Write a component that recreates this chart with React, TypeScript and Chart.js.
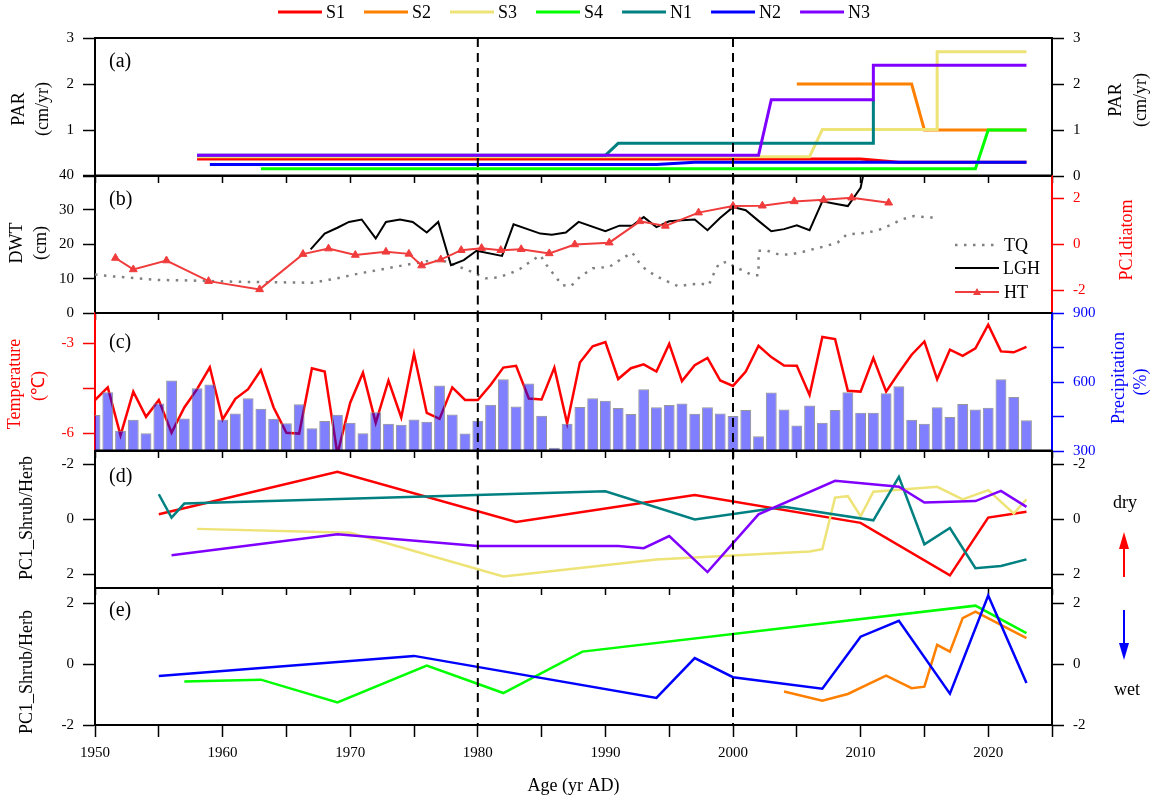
import React, { useEffect, useRef } from 'react';
import { Chart, registerables } from 'chart.js';

Chart.register(...registerables);

const SERIF = '"Liberation Serif", "Times New Roman", serif';
const W = 1159;
const PLOT_LEFT = 95;
const PLOT_RIGHT = 1052;
const EDGES = [38, 175.5, 313, 450.5, 588, 725];
const DASH_YEARS = [1980, 2000];

// ---------- colours ----------
const C_S1 = '#FF0000';
const C_S2 = '#FF8000';
const C_S3 = '#EEE377';
const C_S4 = '#00FF00';
const C_N1 = '#008080';
const C_N2 = '#0000FF';
const C_N3 = '#8000FF';
const C_HT = '#F03C3C';
const C_TQ = '#808080';

// ---------- (a) PAR ----------
const PAR_S1_X = [1958, 2010, 2013, 2023];
const PAR_S1_Y = [0.37, 0.37, 0.3, 0.3];
const PAR_S2_X = [2005, 2014, 2015, 2023];
const PAR_S2_Y = [2.0, 2.0, 1.0, 1.0];
const PAR_S3_X = [1958, 2006, 2007, 2016, 2016, 2023];
const PAR_S3_Y = [0.42, 0.42, 1.01, 1.01, 2.7, 2.7];
const PAR_S4_X = [1963, 2019, 2020, 2023];
const PAR_S4_Y = [0.16, 0.16, 1.0, 1.0];
const PAR_N1_X = [1958, 1990, 1991, 2011, 2011];
const PAR_N1_Y = [0.45, 0.45, 0.71, 0.71, 1.66];
const PAR_N2_X = [1959, 1994, 1997, 2023];
const PAR_N2_Y = [0.25, 0.25, 0.3, 0.3];
const PAR_N3_X = [1958, 2002, 2003, 2011, 2011, 2023];
const PAR_N3_Y = [0.45, 0.45, 1.66, 1.66, 2.41, 2.41];

// ---------- (b) DWT / PC1diatom ----------
const TQ_X = [1950, 1951.2, 1953, 1955, 1957, 1959, 1961, 1963, 1965, 1967, 1969, 1970.7, 1972.5, 1974.2, 1976.2, 1977.5, 1978.5, 1979.5, 1980.6, 1981.5, 1982.4, 1983.3, 1984.1, 1984.9, 1985.4, 1986, 1986.6, 1987.3, 1988, 1989, 1990.3, 1991.3, 1992.1, 1992.6, 1993.2, 1994.1, 1994.9, 1995.7, 1996.7, 1997.4, 1998.1, 1998.5, 1998.9, 1999.6, 2000.1, 2000.7, 2001.5, 2002, 2002, 2002.7, 2003.6, 2004.5, 2005.5, 2006.4, 2007.2, 2008.2, 2008.9, 2009.7, 2010.6, 2011.5, 2012.4, 2013.2, 2014.2, 2015, 2016];
const TQ_Y = [11.2, 10.7, 10.2, 9.6, 9.5, 9.3, 9.1, 9.0, 8.9, 8.8, 10.1, 11.5, 12.7, 13.9, 15.2, 15.0, 13.5, 12.0, 10.1, 10.3, 11.3, 12.8, 14.9, 16.8, 13.9, 11.0, 8.1, 7.8, 10.5, 13.0, 13.4, 15.8, 17.6, 14.9, 12.5, 10.5, 9.1, 7.8, 8.3, 8.6, 8.1, 11.5, 14.4, 14.9, 13.4, 12.5, 11.0, 11.0, 18.1, 18.1, 17.0, 17.0, 17.8, 18.7, 19.4, 20.5, 22.8, 23.1, 23.4, 24.3, 25.7, 27.2, 28.2, 27.9, 27.7];
const LGH_X = [1966.9, 1968, 1969, 1969.9, 1970.9, 1972, 1972.8, 1973.9, 1974.9, 1976, 1976.9, 1977.9, 1978.9, 1979.9, 1981.9, 1982.8, 1984.9, 1985.8, 1986.9, 1987.9, 1990, 1991.1, 1992.1, 1993, 1994, 1995, 1996, 1997, 1998, 1999, 2000, 2001, 2002, 2003, 2004, 2005, 2006, 2007, 2008, 2009, 2010, 2010.2];
const LGH_Y = [18.5, 23.1, 24.8, 26.5, 27.2, 21.7, 26.5, 27.2, 26.5, 23.4, 26.5, 13.9, 15.4, 18.1, 16.6, 25.8, 23.1, 22.8, 23.4, 26.5, 23.8, 25.4, 25.4, 27.9, 25.0, 26.7, 27.0, 27.2, 24.1, 27.7, 30.8, 29.9, 26.8, 23.8, 24.4, 25.5, 24.1, 32.5, 31.8, 31.1, 36.4, 40];
const HT_X = [1951.6, 1953, 1955.6, 1958.9, 1962.9, 1966.3, 1968.3, 1970.4, 1972.8, 1974.6, 1975.6, 1977.1, 1978.7, 1980.3, 1981.8, 1983.4, 1985.6, 1987.6, 1990.3, 1992.7, 1994.7, 1997.3, 2000, 2002.3, 2004.8, 2007.1, 2009.3, 2012.2];
const HT_Y = [-0.6, -1.1, -0.71, -1.61, -1.97, -0.43, -0.19, -0.47, -0.33, -0.42, -0.93, -0.67, -0.26, -0.17, -0.26, -0.22, -0.4, -0.01, 0.07, 1.0, 0.8, 1.38, 1.67, 1.68, 1.87, 1.94, 2.03, 1.81];

// ---------- (c) Temperature / Precipitation ----------
const CLIMATE_YEARS = [1950, 1951, 1952, 1953, 1954, 1955, 1956, 1957, 1958, 1959, 1960, 1961, 1962, 1963, 1964, 1965, 1966, 1967, 1968, 1969, 1970, 1971, 1972, 1973, 1974, 1975, 1976, 1977, 1978, 1979, 1980, 1981, 1982, 1983, 1984, 1985, 1986, 1987, 1988, 1989, 1990, 1991, 1992, 1993, 1994, 1995, 1996, 1997, 1998, 1999, 2000, 2001, 2002, 2003, 2004, 2005, 2006, 2007, 2008, 2009, 2010, 2011, 2012, 2013, 2014, 2015, 2016, 2017, 2018, 2019, 2020, 2021, 2022, 2023];
const TEMPERATURE = [-4.9, -4.48, -6.08, -4.62, -5.46, -4.9, -5.99, -5.15, -4.54, -3.81, -5.55, -4.86, -4.54, -3.9, -5.15, -5.99, -6.02, -3.84, -3.95, -6.7, -4.99, -3.99, -5.66, -4.25, -5.48, -3.36, -5.33, -5.53, -4.48, -4.9, -4.9, -4.4, -3.82, -3.76, -4.85, -4.88, -3.82, -5.68, -3.65, -3.11, -2.97, -4.2, -3.84, -3.71, -3.95, -3.03, -4.27, -3.74, -3.5, -4.25, -4.43, -3.95, -3.09, -3.47, -3.75, -3.76, -4.73, -2.8, -2.87, -4.59, -4.62, -3.5, -4.62, -3.99, -3.39, -2.95, -4.21, -3.22, -3.43, -3.18, -2.39, -3.28, -3.31, -3.13];
const PRECIPITATION = [456, 555, 388, 436, 377, 506, 607, 441, 573, 589, 437, 463, 529, 484, 440, 421, 503, 399, 430, 458, 423, 377, 469, 418, 414, 437, 427, 585, 459, 376, 431, 501, 612, 494, 593, 453, 314, 418, 491, 529, 519, 487, 461, 568, 490, 500, 507, 462, 490, 463, 452, 478, 364, 554, 480, 411, 498, 423, 478, 555, 466, 466, 551, 582, 436, 418, 490, 448, 504, 480, 488, 612, 535, 434];

// ---------- (d) PC1_Shrub/Herb (S1, S3, N1, N3) ----------
const D_S1_X = [1955, 1969, 1983, 1997, 2010, 2017, 2020, 2023];
const D_S1_Y = [-0.18, -1.73, 0.1, -0.88, 0.13, 2.04, -0.06, -0.27];
const D_S3_X = [1958, 1970, 1982, 1994, 2006, 2007, 2008, 2009, 2010, 2011, 2016, 2018, 2020, 2022, 2023];
const D_S3_Y = [0.35, 0.49, 2.08, 1.46, 1.17, 1.09, -0.79, -0.84, -0.11, -1.0, -1.18, -0.72, -1.06, -0.21, -0.72];
const D_N1_X = [1955, 1956, 1957, 1990, 1997, 2004, 2011, 2013, 2015, 2017, 2019, 2021, 2023];
const D_N1_Y = [-0.91, -0.06, -0.57, -1.02, 0.01, -0.45, 0.04, -1.54, 0.91, 0.32, 1.78, 1.7, 1.46];
const D_N3_X = [1956, 1969, 1980, 1991, 1993, 1995, 1998, 2002, 2008, 2013, 2015, 2019, 2021, 2023];
const D_N3_Y = [1.31, 0.55, 0.97, 0.97, 1.05, 0.61, 1.92, -0.18, -1.4, -1.18, -0.61, -0.66, -1.03, -0.45];

// ---------- (e) PC1_Shrub/Herb (S2, S4, N2) ----------
const E_S2_X = [2004, 2007, 2009, 2012, 2014, 2015, 2016, 2017, 2018, 2019, 2023];
const E_S2_Y = [-0.9, -1.2, -0.98, -0.38, -0.79, -0.74, 0.63, 0.41, 1.51, 1.72, 0.85];
const E_S4_X = [1957, 1963, 1969, 1976, 1982, 1988.2, 2019, 2023];
const E_S4_Y = [-0.57, -0.51, -1.26, -0.05, -0.95, 0.41, 1.92, 1.02];
const E_N2_X = [1955, 1975, 1994, 1997, 2000, 2007, 2010, 2013, 2017, 2020, 2023];
const E_N2_Y = [-0.39, 0.27, -1.11, 0.2, -0.43, -0.81, 0.9, 1.42, -0.97, 2.25, -0.62];

// ---------- tick values ----------
const X_TICKS = [1950, 1955, 1960, 1965, 1970, 1975, 1980, 1985, 1990, 1995, 2000, 2005, 2010, 2015, 2020, 2025];
const X_LABELS = [1950, 1960, 1970, 1980, 1990, 2000, 2010, 2020];
const PAR_TICKS = [0, 1, 2, 3];
const DWT_TICKS = [0, 10, 20, 30, 40];
const PC1D_TICKS = [-2, 0, 2];
const TEMP_TICKS = [-6, -4.5, -3];
const TEMP_LABELS = [-6, -3];
const PREC_TICKS = [300, 450, 600, 750, 900];
const PREC_LABELS = [300, 600, 900];
const PC1_TICKS = [-2, 0, 2];

// ---------- helpers ----------
const pts = (xs: number[], ys: number[]) => xs.map((x, i) => ({ x, y: ys[i] }));

function lineDs(label: string, xs: number[], ys: number[], color: string, order: number, extra: any = {}) {
  return {
    type: 'line',
    label,
    data: pts(xs, ys),
    borderColor: color,
    backgroundColor: color,
    borderWidth: 2.5,
    pointRadius: 0,
    tension: 0,
    fill: false,
    order,
    yAxisID: 'y',
    ...extra,
  };
}

function xAxis(last: boolean) {
  return {
    type: 'linear',
    position: 'bottom',
    min: 1950,
    max: 2025,
    offset: false,
    afterBuildTicks: (s: any) => {
      s.ticks = X_TICKS.map((v) => ({ value: v }));
    },
    afterFit: (s: any) => {
      s.height = last ? 76 : 7;
    },
    ticks: {
      display: last,
      autoSkip: false,
      maxRotation: 0,
      padding: 7,
      color: '#000',
      font: { family: SERIF, size: 15 },
      callback: (v: number) => (X_LABELS.includes(v) ? String(v) : ''),
    },
    grid: {
      display: true,
      drawOnChartArea: false,
      drawTicks: true,
      tickLength: last ? 12 : 7,
      tickColor: '#000',
      tickWidth: 1.5,
      offset: false,
    },
    border: { display: true, color: '#000', width: 2 },
    title: {
      display: last,
      text: 'Age (yr AD)',
      color: '#000',
      font: { family: SERIF, size: 18 },
      padding: { top: 0, bottom: 4 },
    },
  };
}

function yAxis(pos: 'left' | 'right', min: number, max: number, tickVals: number[], labelVals: number[], color: string, reverse = false) {
  return {
    type: 'linear',
    position: pos,
    display: true,
    min,
    max,
    reverse,
    afterBuildTicks: (s: any) => {
      s.ticks = tickVals.map((v) => ({ value: v }));
    },
    afterFit: (s: any) => {
      s.width = pos === 'left' ? PLOT_LEFT : W - PLOT_RIGHT;
    },
    ticks: {
      color,
      padding: 9,
      font: { family: SERIF, size: 15 },
      callback: (v: number) => (labelVals.includes(v) ? String(v) : ''),
    },
    grid: {
      drawOnChartArea: false,
      drawTicks: true,
      tickLength: 12,
      tickColor: color,
      tickWidth: 1.5,
    },
    border: { display: true, color, width: 2 },
  };
}

function vText(ctx: CanvasRenderingContext2D, text: string, x: number, y: number, color: string, size = 18) {
  ctx.save();
  ctx.translate(x, y);
  ctx.rotate(-Math.PI / 2);
  ctx.fillStyle = color;
  ctx.font = `${size}px ${SERIF}`;
  ctx.textAlign = 'center';
  ctx.textBaseline = 'middle';
  ctx.fillText(text, 0, 0);
  ctx.restore();
}

function hText(ctx: CanvasRenderingContext2D, text: string, x: number, y: number, color: string, size = 18, align: CanvasTextAlign = 'left') {
  ctx.save();
  ctx.fillStyle = color;
  ctx.font = `${size}px ${SERIF}`;
  ctx.textAlign = align;
  ctx.textBaseline = 'middle';
  ctx.fillText(text, x, y);
  ctx.restore();
}

type TitleSpec = { text: string; x: number; y: number; color: string };

function decoPlugin(titles: TitleSpec[], panelLabel: string, labelY: number, extra?: (chart: any) => void) {
  return {
    id: 'deco',
    afterDatasetsDraw(chart: any) {
      const { ctx, chartArea: a, scales } = chart;
      ctx.save();
      ctx.strokeStyle = '#000';
      ctx.lineWidth = 2;
      ctx.setLineDash([9, 6]);
      DASH_YEARS.forEach((yr) => {
        const x = scales.x.getPixelForValue(yr);
        ctx.beginPath();
        ctx.moveTo(x, a.top);
        ctx.lineTo(x, a.bottom);
        ctx.stroke();
      });
      ctx.setLineDash([]);
      ctx.beginPath();
      ctx.moveTo(a.left, a.top);
      ctx.lineTo(a.right, a.top);
      ctx.stroke();
      ctx.restore();
    },
    afterDraw(chart: any) {
      const { ctx, chartArea: a } = chart;
      titles.forEach((t) => vText(ctx, t.text, t.x, t.y, t.color));
      hText(ctx, panelLabel, a.left + 14, labelY, '#000', 20);
      if (extra) extra(chart);
    },
  };
}

function drawTopLegend(chart: any) {
  const ctx: CanvasRenderingContext2D = chart.ctx;
  ctx.save();
  ctx.font = `18px ${SERIF}`;
  const ds = [...chart.data.datasets].sort((p: any, q: any) => q.order - p.order);
  let x = 278;
  const y = 12;
  ds.forEach((d: any) => {
    ctx.strokeStyle = d.borderColor;
    ctx.lineWidth = 3;
    ctx.beginPath();
    ctx.moveTo(x, y);
    ctx.lineTo(x + 44, y);
    ctx.stroke();
    ctx.fillStyle = '#000';
    ctx.textAlign = 'left';
    ctx.textBaseline = 'middle';
    ctx.fillText(d.label, x + 48, y + 1);
    x += 48 + ctx.measureText(d.label).width + 19;
  });
  ctx.restore();
}

function drawBLegend(chart: any) {
  const ctx: CanvasRenderingContext2D = chart.ctx;
  ctx.save();
  const x0 = 955;
  const x1 = 999;
  // TQ
  ctx.strokeStyle = C_TQ;
  ctx.lineWidth = 2.5;
  ctx.setLineDash([2.5, 6.5]);
  ctx.beginPath();
  ctx.moveTo(x0, 245);
  ctx.lineTo(x1, 245);
  ctx.stroke();
  ctx.setLineDash([]);
  // LGH
  ctx.strokeStyle = '#000';
  ctx.lineWidth = 2;
  ctx.beginPath();
  ctx.moveTo(x0, 268);
  ctx.lineTo(x1, 268);
  ctx.stroke();
  // HT
  ctx.strokeStyle = C_HT;
  ctx.beginPath();
  ctx.moveTo(x0, 292);
  ctx.lineTo(x1, 292);
  ctx.stroke();
  ctx.fillStyle = C_HT;
  ctx.beginPath();
  ctx.moveTo(977, 288);
  ctx.lineTo(981, 295);
  ctx.lineTo(973, 295);
  ctx.closePath();
  ctx.fill();
  ctx.restore();
  hText(ctx, 'TQ', 1004, 246, '#000', 18);
  hText(ctx, 'LGH', 1003, 269, '#000', 18);
  hText(ctx, 'HT', 1004, 293, '#000', 18);
}

function arrow(ctx: CanvasRenderingContext2D, x: number, yFrom: number, yTo: number, color: string) {
  const dir = yTo < yFrom ? -1 : 1;
  const head = 17;
  ctx.save();
  ctx.strokeStyle = color;
  ctx.fillStyle = color;
  ctx.lineWidth = 2;
  ctx.beginPath();
  ctx.moveTo(x, yFrom);
  ctx.lineTo(x, yTo - dir * head);
  ctx.stroke();
  ctx.beginPath();
  ctx.moveTo(x, yTo);
  ctx.lineTo(x - 5, yTo - dir * head);
  ctx.lineTo(x + 5, yTo - dir * head);
  ctx.closePath();
  ctx.fill();
  ctx.restore();
}

function baseOptions(i: number, last: boolean, scales: any) {
  return {
    responsive: false,
    animation: false,
    events: [],
    layout: { padding: { top: EDGES[i], bottom: last ? 0 : 12, left: 0, right: 0 } },
    plugins: { legend: { display: false }, tooltip: { enabled: false } },
    scales: { x: xAxis(last), ...scales },
  };
}

function canvasHeight(i: number) {
  const last = i === 4;
  return EDGES[i + 1] + (last ? 76 : 19);
}

// ---------- panel configs ----------
function configA() {
  return {
    type: 'line',
    data: {
      datasets: [
        lineDs('S1', PAR_S1_X, PAR_S1_Y, C_S1, 6, { borderWidth: 3 }),
        lineDs('S2', PAR_S2_X, PAR_S2_Y, C_S2, 5, { borderWidth: 3 }),
        lineDs('S3', PAR_S3_X, PAR_S3_Y, C_S3, 4, { borderWidth: 3 }),
        lineDs('S4', PAR_S4_X, PAR_S4_Y, C_S4, 3, { borderWidth: 3 }),
        lineDs('N1', PAR_N1_X, PAR_N1_Y, C_N1, 2, { borderWidth: 3 }),
        lineDs('N2', PAR_N2_X, PAR_N2_Y, C_N2, 1, { borderWidth: 3 }),
        lineDs('N3', PAR_N3_X, PAR_N3_Y, C_N3, 0, { borderWidth: 3 }),
      ],
    },
    options: baseOptions(0, false, {
      y: yAxis('left', 0, 3, PAR_TICKS, [1, 2, 3], '#000'),
      y2: yAxis('right', 0, 3, PAR_TICKS, [0, 1, 2, 3], '#000'),
    }),
    plugins: [
      decoPlugin(
        [
          { text: 'PAR', x: 19.5, y: 109, color: '#000' },
          { text: '(cm/yr)', x: 43.5, y: 109, color: '#000' },
          { text: 'PAR', x: 1116, y: 100, color: '#000' },
          { text: '(cm/yr)', x: 1141, y: 100, color: '#000' },
        ],
        '(a)',
        62,
        drawTopLegend
      ),
    ],
  };
}

function configB() {
  return {
    type: 'line',
    data: {
      datasets: [
        lineDs('TQ', TQ_X, TQ_Y, C_TQ, 2, { borderWidth: 2.5, borderDash: [2.5, 6.5] }),
        lineDs('LGH', LGH_X, LGH_Y, '#000000', 1, { borderWidth: 2 }),
        lineDs('HT', HT_X, HT_Y, C_HT, 0, {
          borderWidth: 2,
          yAxisID: 'y2',
          pointStyle: 'triangle',
          pointRadius: 4.5,
          pointBackgroundColor: C_HT,
          pointBorderColor: C_HT,
          pointBorderWidth: 1,
        }),
      ],
    },
    options: baseOptions(1, false, {
      y: yAxis('left', 0, 40, DWT_TICKS, DWT_TICKS, '#000'),
      y2: yAxis('right', -3, 3, PC1D_TICKS, PC1D_TICKS, '#FF0000'),
    }),
    plugins: [
      decoPlugin(
        [
          { text: 'DWT', x: 17, y: 243, color: '#000' },
          { text: '(cm)', x: 41, y: 243, color: '#000' },
          { text: 'PC1diatom', x: 1127, y: 240, color: '#FF0000' },
        ],
        '(b)',
        199.5,
        drawBLegend
      ),
    ],
  };
}

function configC() {
  return {
    type: 'line',
    data: {
      datasets: [
        lineDs('Temperature', CLIMATE_YEARS, TEMPERATURE, '#FF0000', 1, { borderWidth: 2.5 }),
        {
          type: 'bar',
          label: 'Precipitation',
          data: pts(CLIMATE_YEARS, PRECIPITATION),
          yAxisID: 'y2',
          backgroundColor: 'rgba(0,0,255,0.5)',
          borderColor: 'rgba(140,140,140,0.9)',
          borderWidth: 1,
          barPercentage: 0.85,
          categoryPercentage: 1,
          order: 0,
        },
      ],
    },
    options: baseOptions(2, false, {
      y: yAxis('left', -6.6, -2, TEMP_TICKS, TEMP_LABELS, '#FF0000'),
      y2: yAxis('right', 300, 900, PREC_TICKS, PREC_LABELS, '#0000FF'),
    }),
    plugins: [
      decoPlugin(
        [
          { text: 'Temperature', x: 15, y: 384, color: '#FF0000' },
          { text: '(℃)', x: 39, y: 386, color: '#FF0000' },
          { text: 'Precipitation', x: 1119, y: 378, color: '#0000FF' },
          { text: '(%)', x: 1141, y: 382, color: '#0000FF' },
        ],
        '(c)',
        343
      ),
    ],
  };
}

function configD() {
  return {
    type: 'line',
    data: {
      datasets: [
        lineDs('S1', D_S1_X, D_S1_Y, C_S1, 3),
        lineDs('S3', D_S3_X, D_S3_Y, C_S3, 2),
        lineDs('N1', D_N1_X, D_N1_Y, C_N1, 1),
        lineDs('N3', D_N3_X, D_N3_Y, C_N3, 0),
      ],
    },
    options: baseOptions(3, false, {
      y: yAxis('left', -2.5, 2.5, PC1_TICKS, PC1_TICKS, '#000', true),
      y2: yAxis('right', -2.5, 2.5, PC1_TICKS, PC1_TICKS, '#000', true),
    }),
    plugins: [
      decoPlugin([{ text: 'PC1_Shrub/Herb', x: 27, y: 518, color: '#000' }], '(d)', 477, (chart: any) => {
        hText(chart.ctx, 'dry', 1125, 503, '#000', 18, 'center');
        arrow(chart.ctx, 1124, 577, 532, '#FF0000');
      }),
    ],
  };
}

function configE() {
  return {
    type: 'line',
    data: {
      datasets: [
        lineDs('S2', E_S2_X, E_S2_Y, C_S2, 2),
        lineDs('S4', E_S4_X, E_S4_Y, C_S4, 1),
        lineDs('N2', E_N2_X, E_N2_Y, C_N2, 0),
      ],
    },
    options: baseOptions(4, true, {
      y: yAxis('left', -2, 2.5, PC1_TICKS, PC1_TICKS, '#000'),
      y2: yAxis('right', -2, 2.5, PC1_TICKS, PC1_TICKS, '#000'),
    }),
    plugins: [
      decoPlugin([{ text: 'PC1_Shrub/Herb', x: 27, y: 672, color: '#000' }], '(e)', 611, (chart: any) => {
        hText(chart.ctx, 'wet', 1127, 690, '#000', 18, 'center');
        arrow(chart.ctx, 1124, 610, 660, '#0000FF');
      }),
    ],
  };
}

const BUILDERS = [configA, configB, configC, configD, configE];

function PanelCanvas({ index }: { index: number }) {
  const ref = useRef<HTMLCanvasElement | null>(null);
  const h = Math.ceil(canvasHeight(index));
  useEffect(() => {
    if (!ref.current) return;
    const chart = new Chart(ref.current, BUILDERS[index]() as any);
    return () => chart.destroy();
  }, [index]);
  return (
    <canvas
      ref={ref}
      width={W}
      height={h}
      style={{ position: 'absolute', left: 0, top: 0, width: W, height: h }}
    />
  );
}

export default function App() {
  return (
    <div
      style={{
        position: 'fixed',
        left: 0,
        top: 0,
        width: W,
        height: 801,
        background: '#fff',
        overflow: 'hidden',
      }}
    >
      {[0, 1, 2, 3, 4].map((i) => (
        <PanelCanvas key={i} index={i} />
      ))}
    </div>
  );
}
